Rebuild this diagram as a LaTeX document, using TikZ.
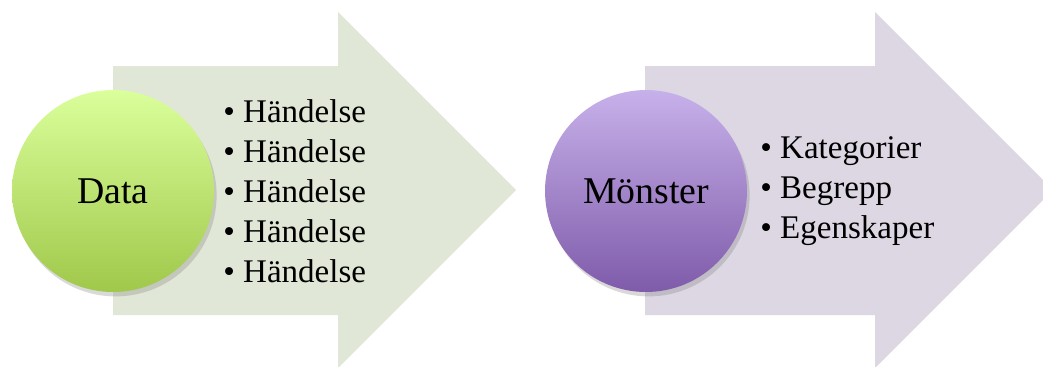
\documentclass[tikz,border=0pt]{standalone}
\usepackage{fontspec}
\setmainfont{Liberation Serif}
\usetikzlibrary{shadows}

\definecolor{sagefill}{HTML}{E0E7D6}
\definecolor{lilacfill}{HTML}{DCD7E3}
\definecolor{limetop}{HTML}{DAFF9B}
\definecolor{limebottom}{HTML}{A0C84A}
\definecolor{violettop}{HTML}{C7B1EA}
\definecolor{violetbottom}{HTML}{7F5BAA}

\begin{document}
\begin{tikzpicture}[x=0.02cm, y=-0.02cm,
    ball/.style={circle, inner sep=0pt, minimum size=4.04cm,
        drop shadow={shadow xshift=1.5pt, shadow yshift=-2.5pt, opacity=.3},
        font=\fontsize{21.5}{26}\selectfont},
    itemlist/.style={anchor=west, align=left, inner sep=0pt,
        font=\fontsize{18.8}{22.76}\selectfont}]
    \clip (0,0) rectangle (1043,366);
    \useasboundingbox (0,0) rectangle (1043,366);

    % arrows
    \fill[sagefill] (113,66) -- (338,66) -- (338,12) -- (516,190)
        -- (338,368) -- (338,315) -- (113,315) -- cycle;
    \fill[lilacfill] (645,66) -- (875,66) -- (875,12) -- (1053,190)
        -- (875,368) -- (875,315) -- (645,315) -- cycle;

    % circles
    \node[ball, top color=limetop, bottom color=limebottom] (data) at (113,191) {Data};
    \node[ball, top color=violettop, bottom color=violetbottom] (monster) at (646,191) {Mönster};

    % lists
    \node[itemlist] (events) at (223,191) {
        \textbullet~Händelse\\
        \textbullet~Händelse\\
        \textbullet~Händelse\\
        \textbullet~Händelse\\
        \textbullet~Händelse};
    \node[itemlist] (concepts) at (760,191) {
        \textbullet~Kategorier\\
        \textbullet~Begrepp\\
        \textbullet~Egenskaper};
\end{tikzpicture}
\end{document}
